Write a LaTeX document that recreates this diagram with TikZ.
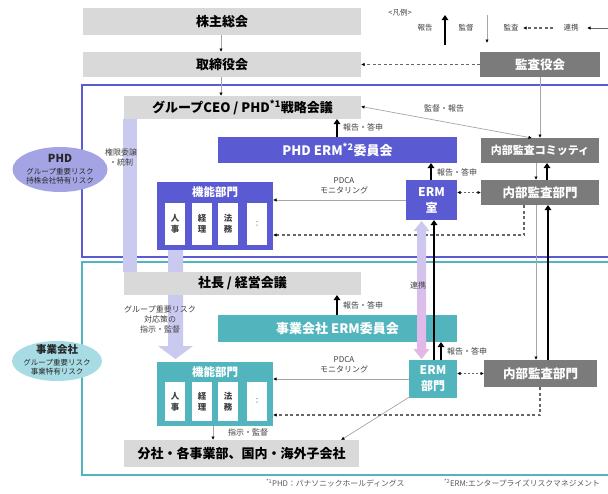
\documentclass[tikz,border=0pt]{standalone}
\usepackage{fontspec}
\setmainfont{Noto Sans CJK JP}
\usetikzlibrary{arrows.meta,shapes.geometric}
\definecolor{pur}{HTML}{5A5AD2}
\definecolor{tl}{HTML}{52B5BE}
\definecolor{dgray}{HTML}{7B7B7B}
\definecolor{lgray}{HTML}{D9D9D9}
\definecolor{lav}{HTML}{CACAF0}
\definecolor{phdell}{HTML}{A4A4E4}
\definecolor{jgell}{HTML}{A8DCE4}
\definecolor{pinkt}{HTML}{E6B6E8}
\definecolor{txt}{HTML}{404040}
\newcommand\fsz[1]{\fontsize{#1}{#1}\selectfont}
\begin{document}
\begin{tikzpicture}[x=1pt,y=-1pt,
  every node/.style={inner sep=0pt, outer sep=0pt},
  box/.style={anchor=north west, draw=none, align=center, font=\bfseries\fsz{13}},
  lg/.style={box, fill=lgray, text=black},
  dg/.style={box, fill=dgray, text=white, font=\bfseries\fsz{12.5}},
  pb/.style={box, fill=pur, text=white},
  tb/.style={box, fill=tl, text=white},
  sub/.style={anchor=north west, fill=white, minimum width=20pt, align=center, text=txt, font=\bfseries\fontsize{8.5}{11}\selectfont},
  sm/.style={font=\fontsize{8}{10}\selectfont, text=txt, align=center},
  rep/.style={line width=2.2pt, black, -{Triangle[length=5pt,width=6.5pt]}},
  sup/.style={line width=0.7pt, black!35, -{Latex[length=3.5pt,width=3.5pt,color=black]}},
  supb/.style={line width=0.7pt, black!35, {Latex[length=3.5pt,width=3.5pt,color=black]}-{Latex[length=3.5pt,width=3.5pt,color=black]}},
  aud/.style={line width=1.2pt, black!60, dash pattern=on 3pt off 2.5pt, -{Latex[length=3.5pt,width=3.5pt,color=black]}},
  audb/.style={line width=1pt, black!60, dash pattern=on 2pt off 2pt, {Latex[length=3.5pt,width=3.5pt,color=black]}-{Latex[length=3.5pt,width=3.5pt,color=black]}},
  elltxt/.style={align=center, text=black!85, font=\fontsize{7.5}{9}\selectfont},
]
\useasboundingbox (0,0) rectangle (608,493);
\clip (0,0) rectangle (608,493);
\fill[white] (0,0) rectangle (608,493);

% frames
\draw[pur, line width=2pt] (82,85) rectangle (640,257);
\draw[tl, line width=2pt] (82,262) rectangle (640,475);

% wide bars
\fill[lav] (123,119) rectangle (137,272);
\fill[lav] (168,250) -- (183,250) -- (183,346) -- (193,346) -- (175.5,359) -- (158,346) -- (168,346) -- cycle;

% top boxes
\node[lg, minimum width=278pt, minimum height=27pt] (kabu) at (83,8) {株主総会};
\node[lg, minimum width=278pt, minimum height=25pt] (tori) at (83,52) {取締役会};
\node[dg, minimum width=120pt, minimum height=25pt] (kansa) at (480,52) {監査役会};

% PHD boxes
\node[lg, minimum width=237pt, minimum height=23pt] (ceo) at (124,96) {グループCEO / PHD\textsuperscript{*1}戦略会議};
\node[pb, minimum width=239pt, minimum height=26pt] (erm1) at (218,137) {PHD ERM\textsuperscript{*2}委員会};
\node[dg, font=\bfseries\fsz{11}, minimum width=118pt, minimum height=25pt] (comm) at (481,138) {内部監査コミッティ};
\node[dg, minimum width=118pt, minimum height=25pt] (iad1) at (481,180) {内部監査部門};
\node[pb, minimum width=51pt, minimum height=40pt, font=\bfseries\fontsize{12}{16}\selectfont] (ermr) at (406,180) {ERM\\室};
\node[pb, minimum width=116pt, minimum height=68pt] (func1) at (157,182) {};
\node[font=\bfseries\fsz{11.5}, text=white] (f1h) at (215,192) {機能部門};
\node[sub, minimum height=42pt] (f1a) at (165,203) {人\\事};
\node[sub, minimum height=42pt] (f1b) at (192,203) {経\\理};
\node[sub, minimum height=42pt] (f1c) at (218,203) {法\\務};
\node[sub, minimum height=42pt, font=\fsz{7}] (f1d) at (247,203) {：};

% business company boxes
\node[lg, minimum width=237pt, minimum height=23pt] (shacho) at (124,272) {社長 / 経営会議};
\node[tb, minimum width=239pt, minimum height=27pt] (erm2) at (218,315) {事業会社 ERM委員会};
\node[tb, minimum width=48pt, minimum height=38pt, font=\bfseries\fontsize{12}{16}\selectfont] (ermb) at (409,360) {ERM\\部門};
\node[dg, minimum width=113pt, minimum height=27pt] (iad2) at (484,360) {内部監査部門};
\node[tb, minimum width=116pt, minimum height=64pt] (func2) at (157,362) {};
\node[font=\bfseries\fsz{11.5}, text=white] (f2h) at (215,372) {機能部門};
\node[sub, minimum height=39pt] (f2a) at (165,382) {人\\事};
\node[sub, minimum height=39pt] (f2b) at (192,382) {経\\理};
\node[sub, minimum height=39pt] (f2c) at (218,382) {法\\務};
\node[sub, minimum height=39pt, font=\fsz{7}] (f2d) at (247,382) {：};
\node[lg, minimum width=235pt, minimum height=27pt] (bunsha) at (124,440) {分社・各事業部、国内・海外子会社};

% ellipses
\node[ellipse, fill=phdell, minimum width=95pt, minimum height=45pt] (phd) at (60,169.5) {};
\node[font=\bfseries\fsz{11}, text=black!85] (phdt) at (60,158) {PHD};
\node[elltxt] (phds) at (60,176) {グループ重要リスク\\持株会社特有リスク};
\node[ellipse, fill=jgell, minimum width=90pt, minimum height=40pt] (jg) at (57,361) {};
\node[font=\bfseries\fsz{10.5}, text=black!85] (jgt) at (57,350) {事業会社};
\node[elltxt] (jgs) at (57,367) {グループ重要リスク\\事業特有リスク};

% x positions
\coordinate (c213) at (213,0);
\coordinate (c221) at (221,0);
\coordinate (c337) at (337,0);
\coordinate (c341) at (341,0);
\coordinate (c431) at (431,0);
\coordinate (c434) at (434,0);
\coordinate (c441) at (441,0);
\coordinate (c532) at (532,0);
\coordinate (c536) at (536,0);
\coordinate (c540) at (540,0);
\coordinate (c547) at (547,0);
\coordinate (c548) at (548,0);
\coordinate (d1) at (524,235);
\coordinate (d2) at (540,415);

% supervision (thin)
\draw[sup] (kabu.south -| c221) -- (tori.north -| c221);
\draw[sup] (tori.south -| c221) -- (ceo.north -| c221);
\draw[sup] (kansa.south -| c540) -- (comm.north -| c540);
\draw[supb] ([yshift=1pt]ceo.east) -- (comm.north -| c532);
\draw[sup] (comm.south -| c536) -- (iad1.north -| c536);
\draw[sup] (iad1.south -| c536) -- (iad2.north -| c536);
\draw[sup] (func2.south -| c213) -- (bunsha.north -| c213);
\draw[sup] ([xshift=2pt,yshift=2pt]ermb.south west) -- (bunsha.north -| c341);
\draw[sup] (ermr.west) -- (func1.east |- ermr.west);
\draw[sup] (ermb.west) -- (func2.east |- ermb.west);

% audit (dashed)
\draw[aud, line width=1.4pt] (kansa.west) -- (tori.east);
\draw[aud] (iad1.south -| d1) -- (d1) -- (func1.east |- d1);
\draw[aud] (iad2.south -| d2) -- (d2) -- (func2.east |- d2);
\draw[audb] (ermr.east |- iad1.west) -- (iad1.west);
\draw[audb] (ermb.east |- iad2.west) -- (iad2.west);

% reports (thick)
\draw[rep] (erm1.north -| c337) -- (ceo.south -| c337);
\draw[rep] (ermr.north -| c431) -- (erm1.south -| c431);
\draw[rep] (iad1.north -| c547) -- (comm.south -| c547);
\draw[rep] (erm2.north -| c337) -- (shacho.south -| c337);
\draw[rep] (ermb.north -| c441) -- (erm2.south -| c441);
\draw[rep] (ermb.north -| c434) -- (ermr.south -| c434);
\draw[rep] (iad2.north -| c548) -- (iad1.south -| c548);

% cooperation bar
\shade[top color=lav, middle color=lav, bottom color=pinkt]
  (421.5,221) -- (429.5,231) -- (426,231) -- (426,349) -- (429.5,349) -- (421.5,359)
  -- (413.5,349) -- (417,349) -- (417,231) -- (413.5,231) -- cycle;

% labels
\node[sm, anchor=west] (l1) at (343,127) {報告・答申};
\node[sm, anchor=west] (l2) at (437,172) {報告・答申};
\node[sm, anchor=west] (l3) at (343,305) {報告・答申};
\node[sm, anchor=west] (l4) at (447,351) {報告・答申};
\node[sm] (l5) at (344,186) {PDCA\\モニタリング};
\node[sm] (l6) at (344,365) {PDCA\\モニタリング};
\node[sm] (l7) at (444,108) {監督・報告};
\node[sm] (l8) at (121,157) {権限委譲\\・統制};
\node[sm] (l9) at (160,319) {グループ重要リスク\\対応策の\\指示・監督};
\node[sm] (l10) at (248,432) {指示・監督};
\node[sm] (l11) at (418,285) {連携};

% legend
\node[sm, font=\fsz{7.5}] (lg0) at (400,13) {<凡例>};
\node[sm, font=\fsz{7.5}] (lg1) at (425,28) {報告};
\node[sm, font=\fsz{7.5}] (lg2) at (466,28) {監督};
\node[sm, font=\fsz{7.5}] (lg3) at (511,28) {監査};
\node[sm, font=\fsz{7.5}] (lg4) at (571,28) {連携};
\coordinate (L1a) at (445,45); \coordinate (L1b) at (445,15);
\coordinate (L2a) at (487,15); \coordinate (L2b) at (487,43);
\coordinate (L3a) at (553,28); \coordinate (L3b) at (523,28);
\coordinate (L4a) at (615,28); \coordinate (L4b) at (587,28);
\draw[rep] (L1a) -- (L1b);
\draw[sup] (L2a) -- (L2b);
\draw[aud] (L3a) -- (L3b);
\draw[line width=1pt, black!60, -{Latex[length=3.5pt,width=3.5pt,color=black]}] (L4a) -- (L4b);

% footnotes
\node[anchor=west, font=\fsz{7.8}, text=black!65] (fn1) at (266,483) {\textsuperscript{*1}PHD：パナソニックホールディングス};
\node[anchor=west, font=\fsz{7.8}, text=black!65] (fn2) at (444,483) {\textsuperscript{*2}ERM:エンタープライズリスクマネジメント};
\end{tikzpicture}
\end{document}
